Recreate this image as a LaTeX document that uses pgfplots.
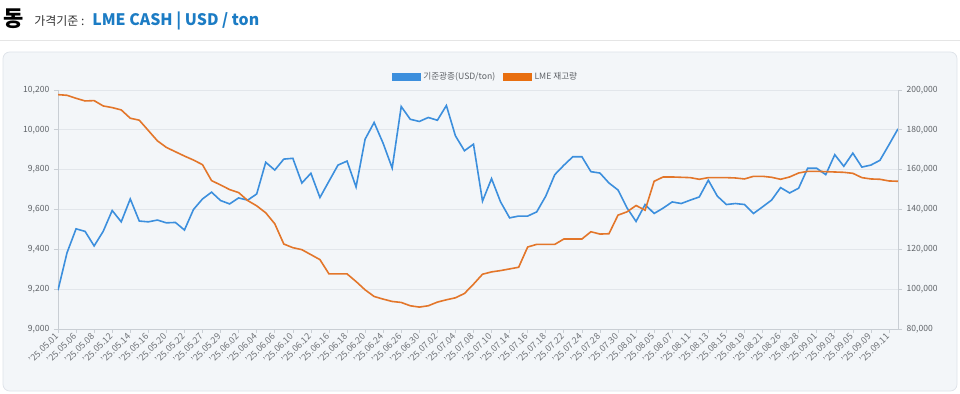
\documentclass[border=0pt]{standalone}
\usepackage{pgfplots}
\usepackage{pgfplotstable}
\pgfplotsset{compat=1.18}
\usepackage{fontspec}
\setmainfont{Noto Sans CJK KR}
\definecolor{lblue}{HTML}{3C8FDD}
\definecolor{lorange}{HTML}{E3762A}
\definecolor{legorange}{HTML}{E86F10}
\definecolor{titleblue}{HTML}{1C7CC4}
\definecolor{panelbg}{HTML}{F3F6F9}
\definecolor{panelborder}{HTML}{DEE3E9}
\definecolor{gridc}{HTML}{E2E6EB}
\definecolor{axisc}{HTML}{C9CED4}
\definecolor{tickc}{HTML}{5F6368}
\newcommand{\tickfont}{\fontsize{6.4}{7.4}\selectfont}
\newcommand{\xfont}{\fontsize{6.7}{7.5}\selectfont}

\pgfplotstableread{
i cu stock
0 9195 197667
1 9383 197333
2 9503 195833
3 9490 194500
4 9417 194667
5 9490 192000
6 9595 191167
7 9538 190000
8 9653 185833
9 9542 184833
10 9538 179667
11 9547 174500
12 9533 171167
13 9535 169000
14 9497 166833
15 9600 164833
16 9653 162500
17 9687 154500
18 9645 152333
19 9628 150000
20 9658 148500
21 9647 144500
22 9678 141833
23 9837 138333
24 9798 132833
25 9853 122667
26 9857 120833
27 9733 119833
28 9782 117333
29 9660 114833
30 9742 107667
31 9823 107667
32 9843 107667
33 9713 103833
34 9953 99667
35 10037 96333
36 9932 95000
37 9808 93833
38 10117 93333
39 10053 91667
40 10042 91000
41 10062 91667
42 10048 93500
43 10122 94667
44 9970 95667
45 9895 97833
46 9928 102500
47 9642 107500
48 9755 108667
49 9638 109333
50 9558 110167
51 9567 111000
52 9567 121167
53 9588 122500
54 9667 122500
55 9775 122500
56 9822 125167
57 9865 125167
58 9865 125167
59 9790 128833
60 9783 127667
61 9733 127833
62 9698 137167
63 9608 138833
64 9540 142000
65 9625 139667
66 9580 154167
67 9607 156333
68 9638 156333
69 9630 156167
70 9647 156000
71 9663 155167
72 9747 156000
73 9667 156000
74 9625 156000
75 9630 155833
76 9625 155333
77 9580 156667
78 9613 156667
79 9647 156167
80 9710 155167
81 9683 156333
82 9707 158333
83 9807 159167
84 9807 159167
85 9775 159000
86 9875 158833
87 9817 158667
88 9883 158167
89 9813 156000
90 9823 155333
91 9847 155167
92 9925 154333
93 10005 154167
}\data

\pgfplotsset{
  common/.style={
    at={(43.5pt,48pt)}, anchor=south west,
    width=630pt, height=179.25pt, scale only axis,
    xmin=0, xmax=93,
    axis line style={draw=axisc, line width=0.6pt, -},
    tick style={draw=axisc, line width=0.5pt},
    major tick length=3pt, tick align=outside,
    yticklabel style={font=\tickfont, text=tickc,
      /pgf/number format/.cd, fixed, 1000 sep={,}, assume math mode=true},
    scaled y ticks=false,
  }
}

\begin{document}
\begin{tikzpicture}[x=0.75pt,y=0.75pt]
\path[use as bounding box] (0,0) rectangle (960,393);
% title
\node[anchor=base west, inner sep=0] at (3,366) {\fontsize{16.5}{18}\selectfont\bfseries 동};
\node[anchor=base west, inner sep=0, text=black!80] at (34,367) {\fontsize{9}{10}\selectfont 가격기준 :};
\node[anchor=base west, inner sep=0, text=titleblue] at (92,367) {\fontsize{11.9}{13}\selectfont\bfseries LME CASH | USD / ton};
\draw[draw=black!10, line width=0.6pt] (0,353) -- (960,353);
% panel
\draw[fill=panelbg, draw=panelborder, line width=0.6pt, rounded corners=5pt] (3,2) rectangle (957,341);

\begin{axis}[common,
  ymin=9000, ymax=10200,
  ytick={9000,9200,9400,9600,9800,10000,10200},
  axis x line*=bottom, axis y line*=left,
  ymajorgrids, major grid style={draw=gridc, line width=0.5pt},
  xtick={0,2,...,92},
  xticklabels={{'25.05.01},{'25.05.06},{'25.05.08},{'25.05.12},{'25.05.14},{'25.05.16},{'25.05.20},{'25.05.22},{'25.05.27},{'25.05.29},{'25.06.02},{'25.06.04},{'25.06.06},{'25.06.10},{'25.06.12},{'25.06.16},{'25.06.18},{'25.06.20},{'25.06.24},{'25.06.26},{'25.06.30},{'25.07.02},{'25.07.04},{'25.07.08},{'25.07.10},{'25.07.14},{'25.07.16},{'25.07.18},{'25.07.22},{'25.07.24},{'25.07.28},{'25.07.30},{'25.08.01},{'25.08.05},{'25.08.07},{'25.08.11},{'25.08.13},{'25.08.15},{'25.08.19},{'25.08.21},{'25.08.26},{'25.08.28},{'25.09.01},{'25.09.03},{'25.09.05},{'25.09.09},{'25.09.11}},
  xticklabel style={rotate=45, anchor=east, font=\xfont, text=tickc!90, inner sep=1.5pt},
]
\addplot[color=lblue, line width=1.2pt, no marks] table[x=i, y=cu] {\data};
\end{axis}

\begin{axis}[common,
  ymin=80000, ymax=200000,
  ytick={80000,100000,120000,140000,160000,180000,200000},
  axis x line=none, axis y line*=right,
  legend style={at={(0.5095,1.0544)}, anchor=center, draw=none, fill=none,
    font=\fontsize{6.5}{7.2}\selectfont, text=tickc,
    /tikz/every even column/.append style={column sep=4pt}},
  legend columns=2,
  legend image code/.code={\fill[#1] (0pt,-2.8pt) rectangle (21pt,2.8pt);},
]
\addlegendimage{color=lblue}
\addlegendentry{기준광종(USD/ton)}
\addplot[color=lorange, line width=1.2pt, no marks, forget plot] table[x=i, y=stock] {\data};
\addlegendimage{color=legorange}
\addlegendentry{LME 재고량}
\end{axis}
\end{tikzpicture}
\end{document}
